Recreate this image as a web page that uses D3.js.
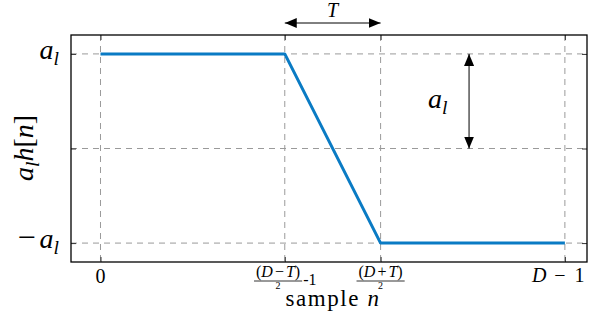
<!DOCTYPE html>
<html>
<head>
<meta charset="utf-8">
<script src="https://cdn.jsdelivr.net/npm/d3@7"></script>
<style>
  body { margin: 0; background: #fff; }
</style>
</head>
<body>
<div id="chart"></div>
<script>
// data: ramp of a_l h[n], with D = 64, T = 12
var sampleN = [0, 25, 38, 63];
var hValue = [1, 1, -1, -1];
var xTickVals = [0, 25, 38, 63];
var xTickLabels = ["0", "(D−T)/2-1", "(D+T)/2", "D − 1"];
var yTickVals = [-1, 0, 1];
var yTickLabels = ["−a_l", "", "a_l"];

var SERIF = "'Liberation Serif', 'Times New Roman', 'DejaVu Serif', serif";

// Setting Dimensions
var W = 589, H = 327;
var x = d3.scaleLinear().domain([-4, 66]).range([71, 587]);
var y = d3.scaleLinear().domain([-1.2, 1.2]).range([262, 35]);

var svg = d3.select("#chart").append("svg")
    .attr("width", W)
    .attr("height", H)
    .attr("font-family", SERIF)
    .style("font-family", SERIF);

var defs = svg.append("defs");
defs.append("marker")
    .attr("id", "head")
    .attr("viewBox", "0 0 12 10")
    .attr("refX", 12).attr("refY", 5)
    .attr("markerWidth", 12).attr("markerHeight", 10)
    .attr("markerUnits", "userSpaceOnUse")
    .attr("orient", "auto-start-reverse")
  .append("path")
    .attr("d", "M0,0 L12,5 L0,10 Z")
    .attr("fill", "#000");

// grid
svg.append("g").selectAll("line")
    .data(xTickVals)
  .enter().append("line")
    .attr("x1", d => x(d)).attr("x2", d => x(d))
    .attr("y1", y(1.2)).attr("y2", y(-1.2))
    .attr("stroke", "#9a9a9a").attr("stroke-width", 1)
    .attr("stroke-dasharray", "6,5");
svg.append("g").selectAll("line")
    .data(yTickVals)
  .enter().append("line")
    .attr("y1", d => y(d)).attr("y2", d => y(d))
    .attr("x1", x(-4)).attr("x2", x(66))
    .attr("stroke", "#9a9a9a").attr("stroke-width", 1)
    .attr("stroke-dasharray", "6,5");

// inside ticks on all four sides
function tickStyle(g) {
  g.select(".domain").remove();
  g.selectAll(".tick line").attr("stroke", "#333");
  g.selectAll(".tick text").remove();
}
svg.append("g").attr("transform", "translate(0," + y(-1.2) + ")")
    .call(d3.axisBottom(x).tickValues(xTickVals).tickSize(-5)).call(tickStyle);
svg.append("g").attr("transform", "translate(0," + y(1.2) + ")")
    .call(d3.axisTop(x).tickValues(xTickVals).tickSize(-5)).call(tickStyle);
svg.append("g").attr("transform", "translate(" + x(-4) + ",0)")
    .call(d3.axisLeft(y).tickValues(yTickVals).tickSize(-5)).call(tickStyle);
svg.append("g").attr("transform", "translate(" + x(66) + ",0)")
    .call(d3.axisRight(y).tickValues(yTickVals).tickSize(-5)).call(tickStyle);

// the ramp
var line = d3.line()
    .x(function(d, i) { return x(sampleN[i]); })
    .y(function(d, i) { return y(hValue[i]); });
svg.append("path")
    .datum(hValue)
    .attr("d", line)
    .attr("fill", "none")
    .attr("stroke", "#0a7bc4")
    .attr("stroke-width", 3)
    .attr("stroke-linejoin", "round");

// box
svg.append("rect")
    .attr("x", x(-4)).attr("y", y(1.2))
    .attr("width", x(66) - x(-4)).attr("height", y(-1.2) - y(1.2))
    .attr("fill", "none").attr("stroke", "#000").attr("stroke-width", 1.3);

// text helpers
function txt(parent) {
  return parent.append("text").attr("font-family", SERIF).attr("fill", "#000");
}
function it(t, s) { return t.append("tspan").attr("font-style", "italic").text(s); }
function rm(t, s) { return t.append("tspan").text(s); }

// "a_l" -> italic a with subscript l, leading "−" upright
function mathText(sel, str, size) {
  var parts = str.split("_");
  var base = parts[0];
  var gap = 0;
  if (base[0] === "−") {
    rm(sel, "−").attr("font-size", size * 1.15);
    base = base.slice(1); gap = 4;
  }
  it(sel, base).attr("dx", gap).attr("font-size", size);
  if (parts.length > 1) {
    it(sel, parts[1]).attr("font-size", size * 0.7).attr("dy", size * 0.2);
  }
}

// y tick labels
yTickVals.forEach(function(v, i) {
  if (!yTickLabels[i]) return;
  var t = txt(svg).attr("x", 59).attr("y", y(v) + 5)
      .attr("text-anchor", "end").attr("font-size", 28);
  mathText(t, yTickLabels[i], 28);
});

// x tick labels
function fracLabel(cx, num, tail) {
  var g = svg.append("g");
  var n = txt(g).attr("y", 277).attr("font-size", 16).attr("text-anchor", "middle");
  rm(n, "(");
  it(n, num[0]);
  rm(n, num[1]).attr("dx", 2);
  it(n, num[2]).attr("dx", 2);
  rm(n, ")");
  var nw = n.node().getComputedTextLength() + 8;
  var tw = 0, tt = null;
  if (tail) {
    tt = txt(g).attr("y", 285).attr("font-size", 16).text(tail);
    tw = tt.node().getComputedTextLength();
  }
  var left = cx - (nw + tw) / 2;
  n.attr("x", left + nw / 2);
  g.append("line")
      .attr("x1", left).attr("x2", left + nw)
      .attr("y1", 281).attr("y2", 281)
      .attr("stroke", "#000").attr("stroke-width", 0.8);
  txt(g).attr("x", left + nw / 2).attr("y", 289)
      .attr("font-size", 10).attr("text-anchor", "middle").text("2");
  if (tt) tt.attr("x", left + nw + 1);
}
xTickVals.forEach(function(v, i) {
  var lab = xTickLabels[i];
  if (lab.indexOf("/2") > 0) {
    var m = lab.match(/\((.)(.)(.)\)\/2(.*)/);
    fracLabel(x(v), [m[1], m[2], m[3]], m[4]);
  } else if (lab === "D − 1") {
    var t = txt(svg).attr("x", x(v) - 33).attr("y", 282)
        .attr("font-size", 20);
    it(t, "D");
    rm(t, "−").attr("dx", 8);
    rm(t, "1").attr("dx", 9);
  } else {
    txt(svg).attr("x", x(v)).attr("y", 283)
        .attr("font-size", 20).attr("text-anchor", "middle").text(lab);
  }
});

// axis titles
var xl = txt(svg).attr("x", 333).attr("y", 306)
    .attr("font-size", 23).attr("letter-spacing", 1.6)
    .attr("text-anchor", "middle");
rm(xl, "sample ");
it(xl, "n");

var yl = txt(svg)
    .attr("transform", "translate(33,148) rotate(-90)")
    .attr("font-size", 28).attr("text-anchor", "middle");
it(yl, "a");
it(yl, "l").attr("font-size", 19.6).attr("dy", 5.6);
it(yl, "h").attr("dy", -5.6);
rm(yl, "[");
it(yl, "n");
rm(yl, "]");

// T width annotation
svg.append("line")
    .attr("x1", x(25)).attr("x2", x(38))
    .attr("y1", 23).attr("y2", 23)
    .attr("stroke", "#000").attr("stroke-width", 1)
    .attr("marker-start", "url(#head)").attr("marker-end", "url(#head)");
var tl = txt(svg).attr("x", (x(25) + x(38)) / 2).attr("y", 17)
    .attr("font-size", 20).attr("text-anchor", "middle");
it(tl, "T");

// a_l height annotation
svg.append("line")
    .attr("x1", x(50)).attr("x2", x(50))
    .attr("y1", y(0)).attr("y2", y(1))
    .attr("stroke", "#000").attr("stroke-width", 1)
    .attr("marker-start", "url(#head)").attr("marker-end", "url(#head)");
var al = txt(svg).attr("x", 428).attr("y", 108).attr("font-size", 28);
mathText(al, "a_l", 28);
</script>
</body>
</html>
